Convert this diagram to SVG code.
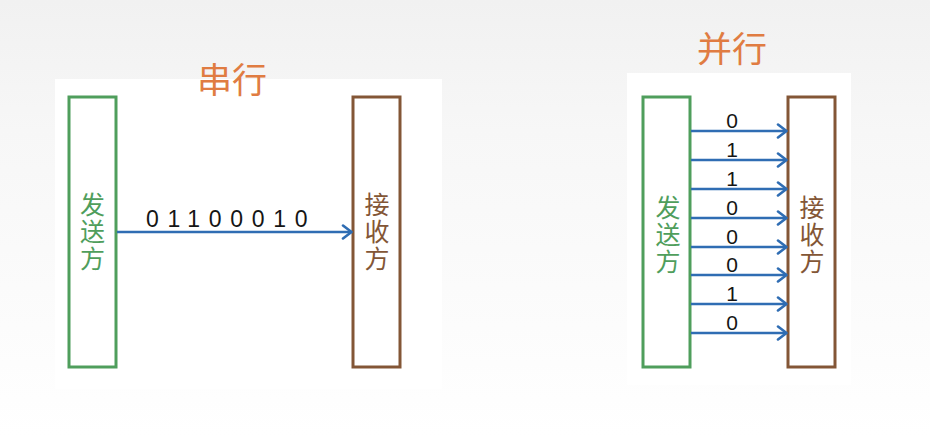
<svg xmlns="http://www.w3.org/2000/svg" width="930" height="436" viewBox="0 0 930 436">
<defs>
<linearGradient id="bg" x1="0" y1="0" x2="0" y2="1">
<stop offset="0" stop-color="#f1f1f1"/>
<stop offset="0.3" stop-color="#f7f7f7"/>
<stop offset="0.75" stop-color="#fcfcfc"/>
<stop offset="1" stop-color="#ffffff"/>
</linearGradient>
<marker id="arr" viewBox="0 0 12 16" refX="11" refY="8" markerWidth="12" markerHeight="16" markerUnits="userSpaceOnUse" orient="auto">
<path d="M2,1.5 L10.5,8 L2,14.5" fill="none" stroke="#2f6db3" stroke-width="2.6" stroke-linecap="round" stroke-linejoin="round"/>
</marker>
</defs>
<style>
.send{fill:#ffffff;stroke:#4f9e5c;stroke-width:3}
.recv{fill:#ffffff;stroke:#835636;stroke-width:3}
.vt{font-family:"Noto Sans CJK SC","Liberation Sans",sans-serif;font-size:25px;writing-mode:vertical-rl;letter-spacing:2px}
.st{fill:#4f9e5c}
.rt{fill:#835636}
.title{font-family:"Noto Sans CJK SC","Liberation Sans",sans-serif;font-size:35px;fill:#e07c42;text-anchor:middle}
.bit{font-family:"Liberation Sans",Arial,sans-serif;font-size:21px;fill:#151515;text-anchor:middle}
.wire{stroke:#2f6db3;stroke-width:2.6;fill:none;marker-end:url(#arr)}
</style>
<rect x="0" y="0" width="930" height="436" fill="url(#bg)"/>
<rect x="55" y="79" width="387" height="310" fill="#ffffff"/>
<rect x="627" y="73" width="224" height="312" fill="#ffffff"/>

<text class="title" x="232" y="93">串行</text>
<text class="title" x="732" y="62">并行</text>

<g id="serial-sender">
<rect class="send" x="69" y="97" width="47" height="270"/>
<text class="vt st" x="92.5" y="192">发送方</text>
</g>
<g id="serial-receiver">
<rect class="recv" x="353" y="97" width="47" height="270"/>
<text class="vt rt" x="377" y="192">接收方</text>
</g>

<g id="parallel-sender">
<rect class="send" x="643" y="97" width="47" height="270"/>
<text class="vt st" x="668" y="195">发送方</text>
</g>
<g id="parallel-receiver">
<rect class="recv" x="788" y="97" width="47" height="270"/>
<text class="vt rt" x="812" y="195">接收方</text>
</g>

<g id="connectors">
<line class="wire" x1="117" y1="232" x2="352" y2="232"/>
<text x="146" y="227" font-family="'Liberation Sans',Arial,sans-serif" font-size="23" fill="#151515" letter-spacing="8.7">01100010</text>

<line class="wire" x1="691" y1="131" x2="787" y2="131"/>
<line class="wire" x1="691" y1="160" x2="787" y2="160"/>
<line class="wire" x1="691" y1="189" x2="787" y2="189"/>
<line class="wire" x1="691" y1="218" x2="787" y2="218"/>
<line class="wire" x1="691" y1="247" x2="787" y2="247"/>
<line class="wire" x1="691" y1="275" x2="787" y2="275"/>
<line class="wire" x1="691" y1="304" x2="787" y2="304"/>
<line class="wire" x1="691" y1="333" x2="787" y2="333"/>
<text class="bit" x="732" y="128">0</text>
<text class="bit" x="732" y="157">1</text>
<text class="bit" x="732" y="186">1</text>
<text class="bit" x="732" y="215">0</text>
<text class="bit" x="732" y="244">0</text>
<text class="bit" x="732" y="272">0</text>
<text class="bit" x="732" y="301">1</text>
<text class="bit" x="732" y="330">0</text>
</g>
</svg>
